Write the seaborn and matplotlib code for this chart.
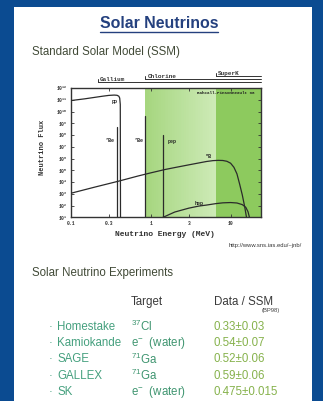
import numpy as np
import pandas as pd
import matplotlib
matplotlib.use("Agg")
import matplotlib.pyplot as plt
import matplotlib.transforms as mtransforms
from matplotlib.colors import LinearSegmentedColormap
from matplotlib.lines import Line2D
from matplotlib.ticker import NullLocator
import seaborn as sns

# ---------------- spectra (BP98 standard solar model) ----------------
pp_energy = [0.10, 0.15, 0.20, 0.25, 0.30, 0.35, 0.38, 0.40, 0.41, 0.417, 0.42]
pp_flux = [8.5e10, 1.2e11, 1.6e11, 2.0e11, 2.35e11, 2.5e11, 2.4e11, 2.0e11, 1.4e11, 4e10, 1.0]

b8_energy = [0.1, 0.2, 0.4, 0.7, 1.0, 1.5, 2.0, 3.0, 4.0, 5.0, 6.0, 7.0, 8.0, 9.0,
             10.0, 11.0, 12.0, 13.0, 14.0, 15.0, 15.8, 16.2]
b8_flux = [1.1e3, 3.7e3, 1.2e4, 3.3e4, 6.0e4, 1.15e5, 1.7e5, 2.9e5, 4.2e5, 5.6e5, 6.6e5,
           7.0e5, 6.8e5, 5.8e5, 4.0e5, 1.8e5, 5.0e4, 6.3e3, 8.0e2, 80.0, 10.0, 1.0]

hep_energy = [1.2, 1.43, 2.0, 3.0, 4.0, 5.0, 6.5, 8.0, 10.0, 12.0, 14.0, 15.5, 16.5, 17.2, 17.6]
hep_flux = [6.0, 10.0, 28.0, 60.0, 90.0, 110.0, 145.0, 170.0, 180.0, 165.0, 120.0, 70.0, 30.0, 10.0, 2.0]

be7_energy = [0.384, 0.862]
be7_flux = [5.1e8, 4.2e9]
pep_energy = [1.442]
pep_flux = [1.1e8]

# detector thresholds (MeV)
detectors = ["Gallium", "Chlorine", "SuperK"]
thresholds = [0.22, 0.86, 6.5]

x_ticks = [0.1, 0.3, 1, 3, 10]
x_tick_labels = ["0.1", "0.3", "1", "3", "10"]
y_exponents = list(range(1, 13))

# ---------------- experiment table ----------------
experiments = ["Homestake", "Kamiokande", "SAGE", "GALLEX", "SK"]
targets = [r"$\mathregular{^{37}}$Cl", r"e$\mathregular{^{-}}$  (water)",
           r"$\mathregular{^{71}}$Ga", r"$\mathregular{^{71}}$Ga",
           r"e$\mathregular{^{-}}$  (water)"]
ratios = ["0.33\u00b10.03", "0.54\u00b10.07", "0.52\u00b10.06", "0.59\u00b10.06",
          "0.475\u00b10.015"]

sns.set_style("ticks")
plt.rcParams["font.family"] = ["Liberation Sans", "DejaVu Sans"]
MONO = ["Liberation Mono", "DejaVu Sans Mono"]

W, H = 323, 401
fig = plt.figure(figsize=(W / 100, H / 100), dpi=100, facecolor="#0b4b91")


def fx(px):
    return px / W


def fy(py):
    return 1 - py / H


# white slide panel, kept behind everything else
fig.patches.append(plt.Rectangle((fx(14), 0), fx(312) - fx(14), fy(7),
                                 transform=fig.transFigure, facecolor="white",
                                 edgecolor="none", zorder=-10))

# ---------------- flux plot ----------------
ax = fig.add_axes([fx(70.7), fy(217.3), fx(261) - fx(70.7), fy(88) - fy(217.3)])
ax.set_zorder(1)
ax.set_xscale("log")
ax.set_yscale("log")
xmin, xmax = 0.1, 24
ymin, ymax = 1e1, 1e12
ax.set_xlim(xmin, xmax)
ax.set_ylim(ymin, ymax)
ax.set_facecolor("white")

# shaded sensitivity ranges
edges = np.logspace(np.log10(thresholds[1]), np.log10(thresholds[2]), 41)
cmap = LinearSegmentedColormap.from_list("lg", ["#a6d67f", "#b9e09b", "#cdeab6"])
ax.pcolormesh(edges, [ymin, ymax], np.linspace(0, 1, 40)[None, :], cmap=cmap,
              shading="flat", zorder=0)
ax.axvspan(thresholds[2], xmax, color="#8dca5e", lw=0, zorder=0)

frames = [
    pd.DataFrame({"E": pp_energy, "flux": pp_flux, "src": "pp"}),
    pd.DataFrame({"E": b8_energy, "flux": b8_flux, "src": "8B"}),
    pd.DataFrame({"E": hep_energy, "flux": hep_flux, "src": "hep"}),
]
for i, (e, f) in enumerate(zip(be7_energy + pep_energy, be7_flux + pep_flux)):
    frames.append(pd.DataFrame({"E": [e, e], "flux": [1.0, f], "src": f"line{i}"}))
spectra = pd.concat(frames, ignore_index=True)

sns.lineplot(data=spectra, x="E", y="flux", units="src", estimator=None, sort=False,
             color="#2b2b2b", lw=0.9, ax=ax, legend=False, zorder=3)
ax.set_xlim(xmin, xmax)
ax.set_ylim(ymin, ymax)

lab = dict(fontsize=3.6, fontweight="bold", family=MONO, color="#222222",
           ha="center", va="center", zorder=4)
ax.text(0.358, 10 ** 10.81, "pp", **lab)
ax.text(0.31, 10 ** 7.49, r"$\mathregular{^{7}}$Be", **lab)
ax.text(0.715, 10 ** 7.49, r"$\mathregular{^{7}}$Be", **lab)
ax.text(1.83, 10 ** 7.49, "pep", **lab)
ax.text(5.36, 10 ** 6.13, r"$\mathregular{^{8}}$B", **lab)
ax.text(4.02, 10 ** 2.21, "hep", **lab)
ax.text(0.968, 0.961, "Bahcall-Pinsonneault 98", transform=ax.transAxes,
        fontsize=3.1, fontweight="bold", family=MONO, color="#222222",
        ha="right", va="center")

ax.set_xticks(x_ticks)
ax.set_xticklabels(x_tick_labels)
ax.xaxis.set_minor_locator(NullLocator())
ax.set_yticks([10.0 ** k for k in y_exponents])
ax.set_yticklabels([r"$\mathregular{10^{%d}}$" % k for k in y_exponents])
ax.yaxis.set_minor_locator(NullLocator())
ax.tick_params(which="both", direction="in", top=True, right=True, length=2.2,
               width=0.6, labelsize=3.4, colors="#333333")
ax.tick_params(axis="x", pad=2.6)
ax.tick_params(axis="y", pad=2.0)
for t in ax.get_xticklabels() + ax.get_yticklabels():
    t.set_fontweight("bold")
    t.set_family(MONO)
for s in ax.spines.values():
    s.set_color("#333333")
    s.set_linewidth(1.0)
ax.set_xlabel("")
ax.set_ylabel("")

# detector threshold brackets above the plot
trans = mtransforms.blended_transform_factory(ax.transData, ax.transAxes)
levels = [1.046, 1.067, 1.089]
for name, thr, lev in zip(detectors, thresholds, levels):
    ax.plot([thr, xmax], [lev, lev], transform=trans, color="#333333", lw=0.7,
            clip_on=False)
    ax.plot([thr, thr], [lev, lev + 0.025], transform=trans, color="#333333",
            lw=0.7, clip_on=False)
    ax.text(thr * 1.06, lev + 0.004, name, transform=trans, fontsize=4.3,
            fontweight="bold", family=MONO, color="#333333", ha="left",
            va="bottom", clip_on=False)

fig.text(fx(43), fy(147), "Neutrino Flux", rotation=90, fontsize=5.0,
         fontweight="bold", family=MONO, color="#333333", ha="center", va="center")
fig.text(fx(165), fy(234.5), "Neutrino Energy (MeV)", fontsize=5.8,
         fontweight="bold", family=MONO, color="#333333", ha="center", va="center")
fig.text(fx(302), fy(245), "http://www.sns.ias.edu/~jnb/", fontsize=4.2,
         color="#333333", ha="right", va="center")

# ---------------- slide text ----------------
title_color = "#24407e"
fig.text(fx(159), fy(23.3), "Solar Neutrinos", fontsize=11.4, fontweight="bold",
         color=title_color, ha="center", va="center")
fig.add_artist(Line2D([fx(100), fx(218)], [fy(31.5), fy(31.5)], color=title_color,
                      lw=1.0, transform=fig.transFigure))

head_color = "#414a37"
fig.text(fx(32), fy(51.7), "Standard Solar Model (SSM)", fontsize=8.3,
         color=head_color, ha="left", va="center")
fig.text(fx(32), fy(273), "Solar Neutrino Experiments", fontsize=8.3,
         color=head_color, ha="left", va="center")
fig.text(fx(131), fy(302), "Target", fontsize=8.3, color="#3a3a3a",
         ha="left", va="center")
fig.text(fx(214), fy(302), "Data / SSM", fontsize=8.3, color="#3a3a3a",
         ha="left", va="center")
fig.text(fx(280), fy(310.5), "(BP98)", fontsize=4.2, color="#444444",
         ha="right", va="center")

for i, (name, tgt, r) in enumerate(zip(experiments, targets, ratios)):
    y = fy(326.7 + 16.4 * i)
    fig.text(fx(50), y, "\u00b7", fontsize=8.3, color="#45a07e", ha="center",
             va="center")
    fig.text(fx(57), y, name, fontsize=8.3, color="#45a07e", ha="left", va="center")
    fig.text(fx(131), y, tgt, fontsize=8.3, color="#3f9570", ha="left", va="center")
    fig.text(fx(214), y, r, fontsize=8.3, color="#86b24c", ha="left", va="center")

fig.savefig("out.png", dpi=100, facecolor=fig.get_facecolor())
